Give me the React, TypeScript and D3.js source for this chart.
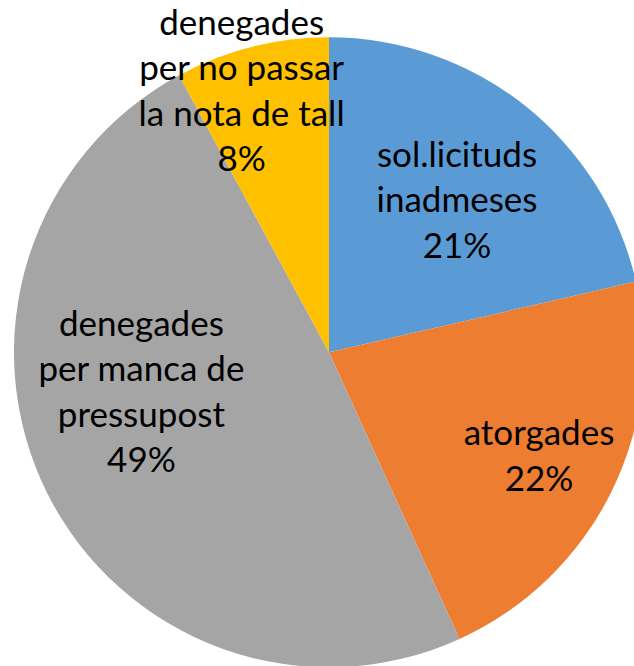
import React from "react";
import * as d3 from "d3";

const categories = [
  ["sol.licituds", "inadmeses"],
  ["atorgades"],
  ["denegades", "per manca de", "pressupost"],
  ["denegades", "per no passar", "la nota de tall"],
];
const values = [21.4, 21.8, 48.9, 7.9];
const colors = ["#5B9BD5", "#ED7D31", "#A5A5A5", "#FFC000"];

// label nudges relative to the arc centroid (layout only)
const labelNudge: [number, number][] = [
  [0.5, 8],
  [26.4, 12.9],
  [-4.3, -51.5],
  [-37.1, -62.6],
];

const W = 634;
const H = 666;
const CX = 329;
const CY = 352.3;
const R = 315;
const FONT = 35;
const LH = 45.5;

export default function App() {
  const pie = d3
    .pie<number>()
    .sort(null)
    .value((d) => d)
    .startAngle(0)
    .endAngle(2 * Math.PI);
  const arcs = pie(values);
  const arc = d3.arc<d3.PieArcDatum<number>>().innerRadius(0).outerRadius(R);
  const labelArc = d3
    .arc<d3.PieArcDatum<number>>()
    .innerRadius(R * 0.65)
    .outerRadius(R * 0.65);
  const total = d3.sum(values);

  return (
    <svg
      width={W}
      height={H}
      style={{ position: "absolute", left: 0, top: 0, background: "#fff" }}
    >
      <g transform={`translate(${CX},${CY})`}>
        {arcs.map((a, i) => (
          <path key={i} d={arc(a) || ""} fill={colors[i]} />
        ))}
        {arcs.map((a, i) => {
          const [x, y] = labelArc.centroid(a);
          const lines = [
            ...categories[i],
            `${Math.round((values[i] / total) * 100)}%`,
          ];
          const n = lines.length;
          const cx = x + labelNudge[i][0];
          const cy = y + labelNudge[i][1];
          const first = cy - ((n - 1) / 2) * LH + 0.35 * 34;
          return (
            <text
              key={i}
              textAnchor="middle"
              fontFamily="Lato, 'Open Sans', sans-serif"
              fontSize={FONT}
              fill="#000"
            >
              {lines.map((l, j) => (
                <tspan key={j} x={cx} y={first + j * LH}>
                  {l}
                </tspan>
              ))}
            </text>
          );
        })}
      </g>
    </svg>
  );
}
